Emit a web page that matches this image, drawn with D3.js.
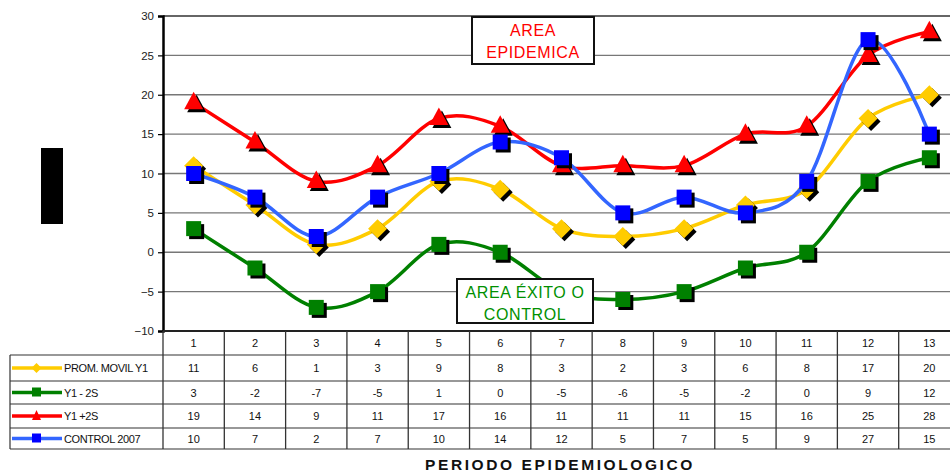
<!DOCTYPE html>
<html>
<head>
<meta charset="utf-8">
<script src="https://cdn.jsdelivr.net/npm/d3@7"></script>
<style>
  html, body { margin: 0; padding: 0; background: #fff; }
  svg { display: block; font-family: "Liberation Sans", Arial, sans-serif; }
</style>
</head>
<body>
<svg id="chart" width="950" height="472"></svg>
<script>
// Epidemiological periods and the four series shown in the data table
const periods = [1, 2, 3, 4, 5, 6, 7, 8, 9, 10, 11, 12, 13];
const promMovil = [11, 6, 1, 3, 9, 8, 3, 2, 3, 6, 8, 17, 20];
const y1Minus2S = [3, -2, -7, -5, 1, 0, -5, -6, -5, -2, 0, 9, 12];
const y1Plus2S = [19, 14, 9, 11, 17, 16, 11, 11, 11, 15, 16, 25, 28];
const control2007 = [10, 7, 2, 7, 10, 14, 12, 5, 7, 5, 9, 27, 15];
const yTicks = [-10, -5, 0, 5, 10, 15, 20, 25, 30];

const series = [
  { name: "PROM. MOVIL Y1", values: promMovil, line: "#FFCC00", mark: "#FFCC00", shape: "diamond" },
  { name: "Y1 - 2S", values: y1Minus2S, line: "#008000", mark: "#008000", shape: "square" },
  { name: "Y1 +2S", values: y1Plus2S, line: "#FF0000", mark: "#FF0000", shape: "triangle" },
  { name: "CONTROL 2007", values: control2007, line: "#3366FF", mark: "#0000FF", shape: "square" }
];

const svg = d3.select("#chart");
const plot = { left: 163, right: 960, top: 16, bottom: 331 };
const tableLeft = 10;
const rowEdges = [331, 355, 381, 404, 428, 449];

const x = d3.scaleBand().domain(periods).range([plot.left, plot.right]);
const y = d3.scaleLinear().domain([-10, 30]).range([plot.bottom, plot.top]);
const cx = p => x(p) + x.bandwidth() / 2;

// Decorative block at the left
svg.append("rect").attr("x", 41).attr("y", 148).attr("width", 22).attr("height", 76).attr("fill", "#000");

// Horizontal gridlines
svg.append("g").selectAll("line").data(yTicks.filter(t => t > -10)).join("line")
  .attr("x1", plot.left).attr("x2", plot.right)
  .attr("y1", d => y(d)).attr("y2", d => y(d))
  .attr("stroke", d => d === 30 ? "#666" : "#777")
  .attr("stroke-width", d => d === 30 ? 2 : 1.4);

// Y axis
const yAxis = d3.axisLeft(y).tickValues(yTicks).tickSize(5).tickPadding(4);
const gy = svg.append("g").attr("transform", `translate(${plot.left},0)`).call(yAxis);
gy.select(".domain").attr("stroke", "#000").attr("stroke-width", 2.5);
gy.selectAll(".tick line").attr("stroke", "#000").attr("stroke-width", 1.2);
gy.selectAll(".tick text").attr("font-size", 11.5).attr("fill", "#222")
  .attr("font-family", "'Liberation Sans', Arial, sans-serif");

// Data table below the plot
const table = svg.append("g");
table.append("line").attr("x1", plot.left).attr("x2", plot.right)
  .attr("y1", plot.bottom).attr("y2", plot.bottom).attr("stroke", "#222").attr("stroke-width", 2.2);
rowEdges.slice(1).forEach(ry => {
  table.append("line").attr("x1", tableLeft).attr("x2", plot.right)
    .attr("y1", ry).attr("y2", ry).attr("stroke", "#333").attr("stroke-width", 1.2);
});
table.append("line").attr("x1", tableLeft).attr("x2", tableLeft)
  .attr("y1", rowEdges[1]).attr("y2", rowEdges[5]).attr("stroke", "#333").attr("stroke-width", 1.2);
periods.forEach(p => {
  table.append("line").attr("x1", x(p)).attr("x2", x(p))
    .attr("y1", rowEdges[0]).attr("y2", rowEdges[5]).attr("stroke", "#333").attr("stroke-width", 1.3);
});
table.selectAll("text.hdr").data(periods).join("text").attr("class", "hdr")
  .attr("x", d => cx(d)).attr("y", (rowEdges[0] + rowEdges[1]) / 2 + 4)
  .attr("text-anchor", "middle").attr("font-size", 11).attr("fill", "#111").text(d => d);

function drawMarker(g, shape, px, py, fill) {
  if (shape === "square") {
    g.append("rect").attr("x", px - 7.5).attr("y", py - 7.5).attr("width", 15).attr("height", 15).attr("fill", fill);
  } else if (shape === "triangle") {
    g.append("path").attr("d", `M${px},${py - 11}L${px + 9.5},${py + 6.5}L${px - 9.5},${py + 6.5}Z`).attr("fill", fill);
  } else {
    g.append("path").attr("d", `M${px},${py - 9.5}L${px + 9.5},${py}L${px},${py + 9.5}L${px - 9.5},${py}Z`).attr("fill", fill);
  }
}

series.forEach((s, i) => {
  const ry0 = rowEdges[i + 1], ry1 = rowEdges[i + 2];
  const mid = (ry0 + ry1) / 2;
  table.append("line").attr("x1", 12).attr("x2", 62).attr("y1", mid).attr("y2", mid)
    .attr("stroke", s.line).attr("stroke-width", 3.5);
  const lg = table.append("g");
  if (s.shape === "square") {
    lg.append("rect").attr("x", 32).attr("y", mid - 5).attr("width", 9).attr("height", 9).attr("fill", s.mark);
  } else if (s.shape === "triangle") {
    lg.append("path").attr("d", `M36.5,${mid - 6}L41,${mid + 4}L32,${mid + 4}Z`).attr("fill", s.mark);
  } else {
    lg.append("path").attr("d", `M36.5,${mid - 5}L41.5,${mid}L36.5,${mid + 5}L31.5,${mid}Z`).attr("fill", s.mark);
  }
  table.append("text").attr("x", 64).attr("y", mid + 4).attr("font-size", 11).attr("fill", "#111")
    .attr("letter-spacing", -0.4).text(s.name);
  table.selectAll(null).data(s.values).join("text")
    .attr("x", (d, j) => cx(periods[j])).attr("y", mid + 4)
    .attr("text-anchor", "middle").attr("font-size", 11).attr("fill", "#111").text(d => d);
});

// Smoothed series lines with shadowed markers
const line = d3.line().x(d => cx(d.p)).y(d => y(d.v)).curve(d3.curveCardinal.tension(0));
const marks = svg.append("g");
series.forEach(s => {
  const pts = s.values.map((v, j) => ({ p: periods[j], v }));
  marks.append("path").datum(pts).attr("d", line)
    .attr("fill", "none").attr("stroke", s.line).attr("stroke-width", 3.5).attr("stroke-linejoin", "round");
  const g = marks.append("g");
  pts.forEach(d => drawMarker(g, s.shape, cx(d.p) + 3, y(d.v) + 3, "#000"));
  pts.forEach(d => drawMarker(g, s.shape, cx(d.p), y(d.v), s.mark));
});

// Annotation boxes
function noteBox(x0, y0, w, h, lines, color) {
  const g = svg.append("g");
  g.append("rect").attr("x", x0).attr("y", y0).attr("width", w).attr("height", h)
    .attr("fill", "#fff").attr("stroke", "#111").attr("stroke-width", 2);
  lines.forEach((t, k) => {
    g.append("text").attr("x", x0 + w / 2).attr("y", y0 + 19 + k * 22)
      .attr("text-anchor", "middle").attr("font-size", 16).attr("letter-spacing", 0.6)
      .attr("fill", color).text(t);
  });
}
noteBox(472, 17, 122, 47, ["AREA", "EPIDEMICA"], "#FF0000");
noteBox(457, 279, 136, 44, ["AREA ÉXITO O", "CONTROL"], "#009000");

// Category axis title
svg.append("text").attr("x", 560).attr("y", 470).attr("text-anchor", "middle")
  .attr("font-size", 15.5).attr("font-weight", "bold").attr("letter-spacing", 2.6)
  .attr("fill", "#111").text("PERIODO EPIDEMIOLOGICO");
</script>
</body>
</html>
